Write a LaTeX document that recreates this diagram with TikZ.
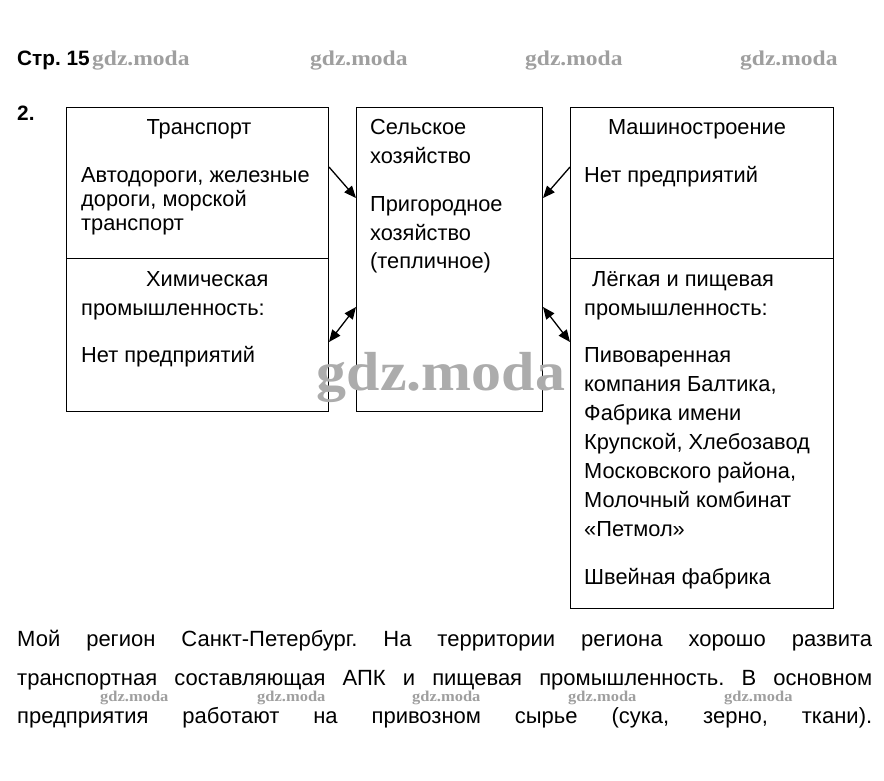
\documentclass[tikz,border=0pt]{standalone}
\usepackage{fontspec}
\usepackage{graphicx}
\setmainfont{Liberation Sans}
\newfontfamily\wmfont{Liberation Serif}
\usetikzlibrary{arrows.meta,calc}
\frenchspacing
\begin{document}
\begin{tikzpicture}[x=1pt,y=-1pt,
  box/.style={draw, line width=1pt, inner sep=0pt, anchor=north west},
  divline/.style={line width=1pt},
  txt/.style={anchor=base west, inner sep=0pt, font=\fontsize{21.8}{26}\selectfont},
  ctxt/.style={anchor=base, inner sep=0pt, font=\fontsize{21.8}{26}\selectfont},
  ptxt/.style={anchor=base west, inner sep=0pt, font=\fontsize{22}{26}\selectfont},
  head/.style={anchor=base west, inner sep=0pt, font=\fontsize{20.8}{24}\selectfont\bfseries},
  arr/.style={line width=1.3pt, -{Triangle[length=12pt,width=10pt]}},
  darr/.style={line width=1.3pt, {Triangle[length=12pt,width=10pt]}-{Triangle[length=12pt,width=10pt]}},
  wmsmall/.style={anchor=base west, inner sep=0pt, text=gray!75, font=\wmfont\bfseries\fontsize{15}{18}\selectfont},
  wmtop/.style={anchor=base west, inner sep=0pt, text=gray!75, font=\wmfont\bfseries\fontsize{21}{24}\selectfont},
  wmbig/.style={anchor=base, inner sep=0pt, text=gray!65, font=\wmfont\bfseries\fontsize{55}{60}\selectfont}
]
\useasboundingbox (0,0) rectangle (884,780);

% header
\node[head] (h1) at (17,65) {Стр. 15};
\node[head] (h2) at (17,120) {2.};
\node[wmtop] (w1) at (92,65) {\scalebox{1.12}[1]{gdz.moda}};
\node[wmtop] (w2) at (310,65) {\scalebox{1.12}[1]{gdz.moda}};
\node[wmtop] (w3) at (525,65) {\scalebox{1.12}[1]{gdz.moda}};
\node[wmtop] (w4) at (740,65) {\scalebox{1.12}[1]{gdz.moda}};

% boxes
\node[box, minimum width=262pt, minimum height=304pt] (L) at (66,107) {};
\node[box, minimum width=186pt, minimum height=304pt] (M) at (356,107) {};
\node[box, minimum width=263pt, minimum height=501pt] (R) at (570,107) {};
\draw[divline] ($(L.north west)+(0,151)$) -- ($(L.north east)+(0,151)$);
\draw[divline] ($(R.north west)+(0,151)$) -- ($(R.north east)+(0,151)$);

% left box text
\node[ctxt] (a1) at (199,134) {Транспорт};
\node[txt] (a2) at (81,182) {Автодороги, железные};
\node[txt] (a3) at (81,206) {дороги, морской};
\node[txt] (a4) at (81,230) {транспорт};
\node[txt] (b1) at (146,286) {Химическая};
\node[txt] (b2) at (81,315) {промышленность:};
\node[txt] (b3) at (81,362) {Нет предприятий};

% middle box text
\node[txt] (c1) at (370,134) {Сельское};
\node[txt] (c2) at (370,163) {хозяйство};
\node[txt] (c3) at (370,211) {Пригородное};
\node[txt] (c4) at (370,240) {хозяйство};
\node[txt] (c5) at (370,268) {(тепличное)};

% right box text
\node[ctxt] (d1) at (697,134) {Машиностроение};
\node[txt] (d2) at (584,182) {Нет предприятий};
\node[txt] (e1) at (592,286) {Лёгкая и пищевая};
\node[txt] (e2) at (584,315) {промышленность:};
\node[txt] (e3) at (584,362) {Пивоваренная};
\node[txt] (e4) at (584,391) {компания Балтика,};
\node[txt] (e5) at (584,420) {Фабрика имени};
\node[txt] (e6) at (584,449) {Крупской, Хлебозавод};
\node[txt] (e7) at (584,478) {Московского района,};
\node[txt] (e8) at (584,507) {Молочный комбинат};
\node[txt] (e9) at (584,536) {«Петмол»};
\node[txt] (e10) at (584,584) {Швейная фабрика};

% arrows
\draw[arr] ([yshift=-60pt]L.north east) -- ([yshift=-91pt]M.north west);
\draw[arr] ([yshift=-60pt]R.north west) -- ([yshift=-91pt]M.north east);
\draw[darr] ([yshift=-235pt]L.north east) -- ([yshift=-200pt]M.north west);
\draw[darr] ([yshift=-200pt]M.north east) -- ([yshift=-235pt]R.north west);

% big watermark
\node[wmbig] (wb) at (441,390) {\scalebox{1.09}[1]{gdz.moda}};

% paragraph
\node[ptxt] (p1) at (17,646) {\hbox to 855pt{Мой регион Санкт-Петербург. На территории региона хорошо развита}};
\node[ptxt] (p2) at (17,685) {\hbox to 855pt{транспортная составляющая АПК и пищевая промышленность. В основном}};
\node[ptxt] (p3) at (17,723) {\hbox to 855pt{предприятия работают на привозном сырье (сука, зерно, ткани).}};

% small watermarks
\node[wmsmall] (s1) at (100,701) {\scalebox{1.1}[1]{gdz.moda}};
\node[wmsmall] (s2) at (257,701) {\scalebox{1.1}[1]{gdz.moda}};
\node[wmsmall] (s3) at (412,701) {\scalebox{1.1}[1]{gdz.moda}};
\node[wmsmall] (s4) at (568,701) {\scalebox{1.1}[1]{gdz.moda}};
\node[wmsmall] (s5) at (724,701) {\scalebox{1.1}[1]{gdz.moda}};
\end{tikzpicture}
\end{document}
